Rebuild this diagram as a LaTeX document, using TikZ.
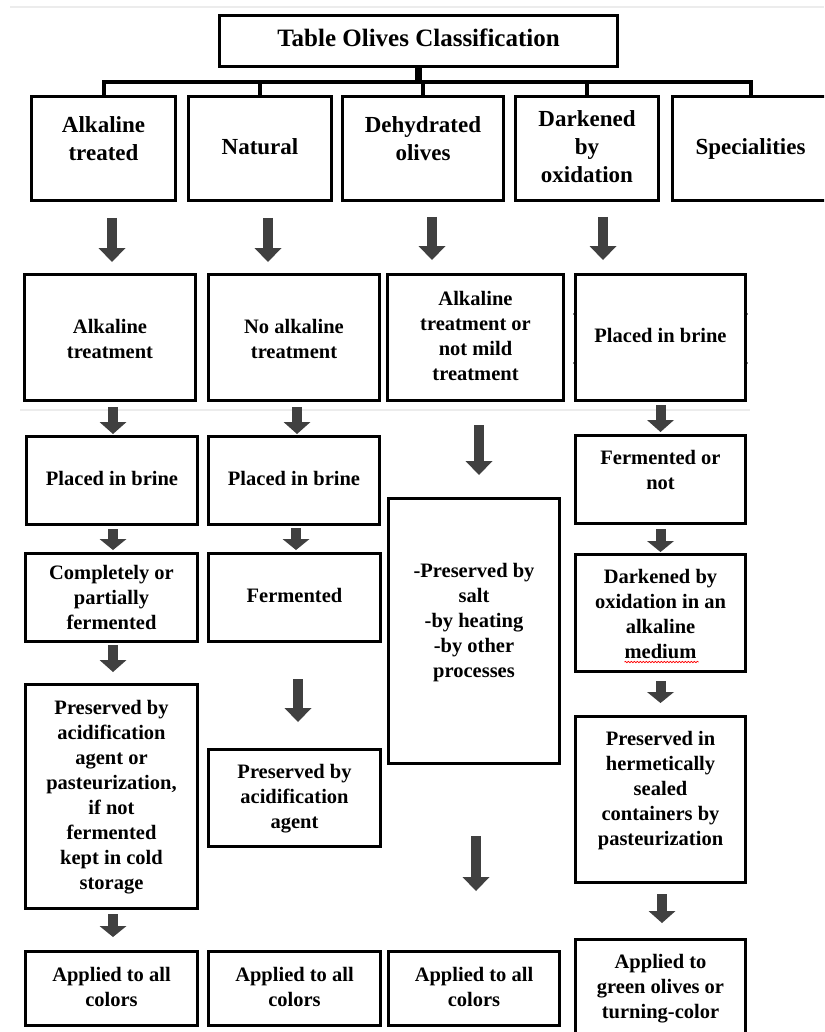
\documentclass[tikz,border=0pt]{standalone}
\usepackage{fontspec}
\setmainfont{Liberation Serif}
\usetikzlibrary{arrows.meta,calc,decorations.pathmorphing}
\definecolor{arrgray}{HTML}{404040}
\definecolor{faintgray}{HTML}{ECECEC}
\newcommand{\tcell}[2][0pt]{\raisebox{#1}[\height][\depth]{\begin{tabular}{@{}c@{}}#2\end{tabular}}}
\begin{document}
\begin{tikzpicture}[x=1pt,y=-1pt,
  box/.style={draw=black, line width=3.3pt, inner sep=0pt, font=\bfseries\fontsize{20.5}{25}\selectfont},
  topbox/.style={box, font=\bfseries\fontsize{23}{28}\selectfont},
  wh/.style 2 args={minimum width={#1-3.3}, minimum height={#2-3.3}},
  bus/.style={line width=4pt},
  barr/.style={draw=arrgray, line width=10pt, -{Triangle[width=27pt,length=#1,line width=0pt]}},
  barr/.default=14pt,
  faint/.style={draw=faintgray, line width=1.5pt}]
\fill[white] (0,0) rectangle (824,1032);
\useasboundingbox (0,0) rectangle (824,1032);
\clip (0,0) rectangle (824,1032);

\draw[faint] (10,7) -- (824,7);
\draw[faint] (20,410) -- (750,410);

% title
\node[box, font=\bfseries\fontsize{25}{30}\selectfont, wh={401}{54}] (title) at (418.5,41) {\tcell{Table Olives Classification}};

% row 2
\node[topbox, wh={147}{107}] (r2a) at (103.5,148.5) {\tcell[8pt]{Alkaline\\treated}};
\node[topbox, wh={146}{107}] (r2n) at (260,148.5) {\tcell{Natural}};
\node[topbox, wh={164}{107}] (r2d) at (423,148.5) {\tcell[8pt]{Dehydrated\\olives}};
\node[topbox, wh={146}{107}] (r2k) at (587,148.5) {\tcell{Darkened\\by\\oxidation}};
\node[topbox, wh={159}{107}] (r2s) at (750.5,148.5) {\tcell{Specialities}};

% bus
\draw[line width=7pt] (title.south) -- ++(0,14.5) coordinate (hub);
\draw[bus] (r2a.north) |- (hub) -| (r2s.north);
\foreach \n in {r2n,r2d,r2k} \draw[bus] (\n.north) -- (\n.north |- hub);

% row 3
\node[box, wh={174}{129}] (r3a) at (110,337.5) {\tcell[-3pt]{Alkaline\\treatment}};
\node[box, wh={174}{129}] (r3n) at (294,337.5) {\tcell[-3pt]{No alkaline\\treatment}};
\node[box, wh={179}{129}] (r3d) at (475.5,337.5) {\tcell{Alkaline\\treatment or\\not mild\\treatment}};
\node[box, wh={173}{129}] (r3k) at (660.5,337.5) {\tcell{Placed in brine}};
\fill ($(r3k.west)+(1,-23.5)$) circle (1.8);
\fill ($(r3k.west)+(1,25.5)$) circle (1.8);
\fill ($(r3k.east)+(-1,-23.5)$) circle (1.8);
\fill ($(r3k.east)+(-1,25.5)$) circle (1.8);

% row 4
\node[box, wh={174}{91}] (r4a) at (112,480.5) {\tcell{Placed in brine}};
\node[box, wh={174}{91}] (r4n) at (294,480.5) {\tcell{Placed in brine}};
\node[box, wh={173}{91}] (r4k) at (660.5,479.5) {\tcell[8pt]{Fermented or\\not}};

% dehydrated big box
\node[box, wh={174}{268}] (bigd) at (474,631) {\tcell[9pt]{-Preserved by\\salt\\-by heating\\-by other\\processes}};

% row 5
\node[box, wh={175}{91}] (r5a) at (111.5,597.5) {\tcell[-2pt]{Completely or\\partially\\fermented}};
\node[box, wh={175}{91}] (r5n) at (294.5,597.5) {\tcell{Fermented}};
\node[box, wh={173}{120}] (r5k) at (660.5,613) {\tcell[-3pt]{Darkened by\\oxidation in an\\alkaline\\medium}};
\draw[red, line width=0.7pt, decorate, decoration={snake,amplitude=0.7pt,segment length=3pt}] ($(r5k.center)+(-36,49)$) -- ++(74,0);

% row 6
\node[box, wh={175}{227}] (r6a) at (111.5,796.5) {\tcell{Preserved by\\acidification\\agent or\\pasteurization,\\if not\\fermented\\kept in cold\\storage}};
\node[box, wh={175}{100}] (r6n) at (294.5,798) {\tcell{Preserved by\\acidification\\agent}};
\node[box, wh={173}{169}] (r6k) at (660.5,799.5) {\tcell[9pt]{Preserved in\\hermetically\\sealed\\containers by\\pasteurization}};

% row 7
\node[box, wh={175}{77}] (r7a) at (111.5,988.5) {\tcell{Applied to all\\colors}};
\node[box, wh={175}{77}] (r7n) at (294.5,988.5) {\tcell{Applied to all\\colors}};
\node[box, wh={174}{77}] (r7d) at (474,988.5) {\tcell{Applied to all\\colors}};
\node[box, wh={173}{100}] (r7k) at (660.5,988) {\tcell{Applied to\\green olives or\\turning-color}};

% arrows
\draw[barr] ($(r2a.south)+(8.5,16)$) -- ++(0,44);
\draw[barr] ($(r2n.south)+(8,16)$) -- ++(0,44);
\draw[barr] ($(r2d.south)+(9,15)$) -- ++(0,43);
\draw[barr] ($(r2k.south)+(16,15)$) -- ++(0,43);
\draw[barr=12pt] ($(r3a.south)+(3,5)$) -- ++(0,27);
\draw[barr=12pt] ($(r3n.south)+(3,5)$) -- ++(0,27);
\draw[barr=12pt] ($(r3k.south)+(0,3)$) -- ++(0,27);
\draw[barr] ($(r3d.south)+(3.5,23)$) -- ++(0,50);
\draw[barr=11pt] ($(r4a.south)+(1,3)$) -- ++(0,21);
\draw[barr=11pt] ($(r4n.south)+(2,2)$) -- ++(0,22);
\draw[barr=11pt] ($(r4k.south)+(0,4)$) -- ++(0,23);
\draw[barr=12pt] ($(r5a.south)+(1.5,2)$) -- ++(0,27);
\draw[barr] ($(r5n.south)+(3.5,36)$) -- ++(0,43);
\draw[barr=11pt] ($(r5k.south)+(0,8)$) -- ++(0,22);
\draw[barr] ($(bigd.south)+(2,71)$) -- ++(0,55);
\draw[barr=11pt] ($(r6a.south)+(1.5,4)$) -- ++(0,23);
\draw[barr=12pt] ($(r6k.south)+(1.5,10)$) -- ++(0,29);
\end{tikzpicture}
\end{document}
